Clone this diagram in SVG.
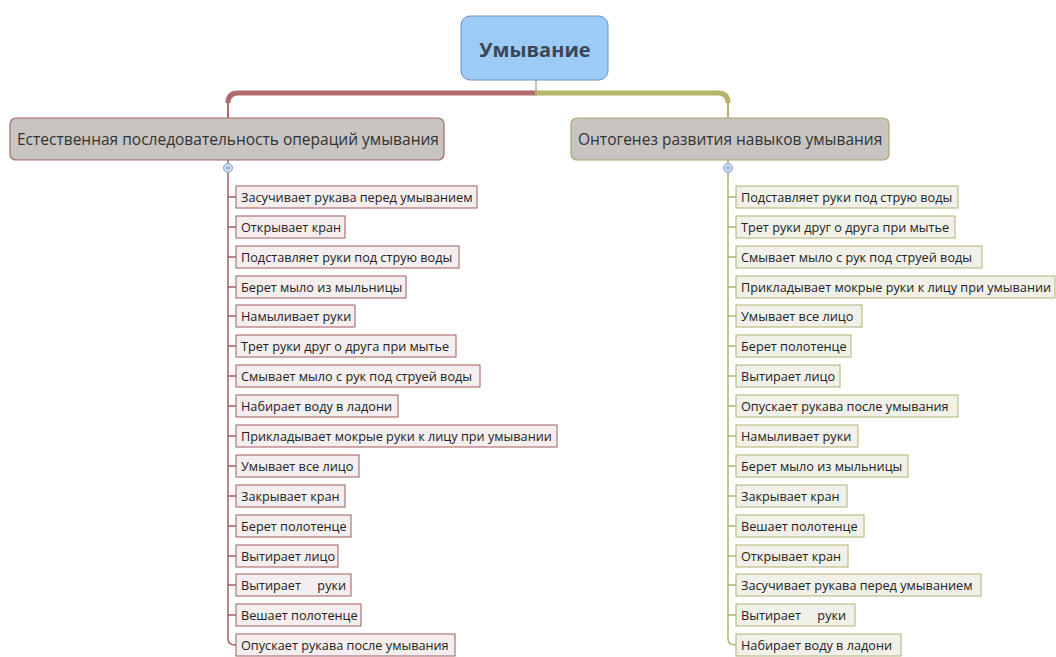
<svg xmlns="http://www.w3.org/2000/svg" width="1056" height="657" viewBox="0 0 1056 657">
<style>
text{font-family:"Open Sans","Noto Sans","DejaVu Sans",sans-serif;fill:#222}
.root rect{fill:#9ccbf7;stroke:#6f93b5;stroke-width:1}
.root text{font-size:20px;font-weight:bold;fill:#3b4654}
.main rect{fill:#c7c4c2;stroke-width:1.2}
.main text{font-size:15.5px;fill:#333}
.l rect{fill:#f4eeee;stroke:#a25c5c;stroke-width:1}
.r rect{fill:#f1f1ea;stroke:#b2b272;stroke-width:1}
.l text,.r text{font-size:12.7px}
.cl{stroke:#a25c5c;fill:none;stroke-width:1.5}
.cr{stroke:#b2b272;fill:none;stroke-width:1.5}
.knob{fill:#c6d9f0;stroke:#8fa9cc;stroke-width:1}
</style>
<rect width="1056" height="657" fill="#ffffff"/>
<g id="connectors">
<line x1="536" y1="80" x2="536" y2="93" stroke="#888" stroke-width="1"/>
<path d="M537,93 H238 Q228,93 228,103" stroke="#b06a6a" stroke-width="5" fill="none"/>
<path d="M228,100 V118" stroke="#b06a6a" stroke-width="2" fill="none"/>
<path d="M535,93 H718 Q728,93 728,103" stroke="#b4b46a" stroke-width="5" fill="none"/>
<path d="M728,100 V118" stroke="#b4b46a" stroke-width="2" fill="none"/>
<path class="cl" d="M228,160 V639 Q228,645 236,645"/>
<path class="cr" d="M728,160 V639 Q728,645 736,645"/>
<g class="cl">
<path d="M228,197H236M228,227H236M228,257H236M228,287H236M228,316H236M228,346H236M228,376H236M228,406H236M228,436H236M228,466H236M228,496H236M228,526H236M228,556H236M228,585H236M228,615H236"/>
</g>
<g class="cr">
<path d="M728,197H736M728,227H736M728,257H736M728,287H736M728,316H736M728,346H736M728,376H736M728,406H736M728,436H736M728,466H736M728,496H736M728,526H736M728,556H736M728,585H736M728,615H736"/>
</g>
<circle class="knob" cx="228" cy="168" r="4.5"/>
<line x1="226" y1="168" x2="230" y2="168" stroke="#6f89b0" stroke-width="1"/>
<circle class="knob" cx="728" cy="168" r="4.5"/>
<line x1="726" y1="168" x2="730" y2="168" stroke="#6f89b0" stroke-width="1"/>
</g>
<g id="root" class="root"><rect x="461" y="16" width="147" height="64" rx="9"/><text x="535" y="57" text-anchor="middle">Умывание</text></g>
<g id="main-left" class="main"><rect x="10" y="118" width="434" height="42" rx="6" stroke="#a46868"/><text x="17" y="145">Естественная последовательность операций умывания</text></g>
<g id="main-right" class="main"><rect x="571" y="118" width="318" height="42" rx="6" stroke="#a8a86a"/><text x="578" y="145">Онтогенез развития навыков умывания</text></g>
<g id="l1" class="l"><rect x="236" y="186" width="241" height="22"/><text x="241" y="202">Засучивает рукава перед умыванием</text></g>
<g id="l2" class="l"><rect x="236" y="216" width="109" height="22"/><text x="241" y="232">Открывает кран</text></g>
<g id="l3" class="l"><rect x="236" y="246" width="223" height="22"/><text x="241" y="262">Подставляет руки под струю воды</text></g>
<g id="l4" class="l"><rect x="236" y="276" width="170" height="22"/><text x="241" y="292">Берет мыло из мыльницы</text></g>
<g id="l5" class="l"><rect x="236" y="305" width="119" height="22"/><text x="241" y="321">Намыливает руки</text></g>
<g id="l6" class="l"><rect x="236" y="335" width="220" height="22"/><text x="241" y="351">Трет руки друг о друга при мытье</text></g>
<g id="l7" class="l"><rect x="236" y="365" width="244" height="22"/><text x="241" y="381">Смывает мыло с рук под струей воды</text></g>
<g id="l8" class="l"><rect x="236" y="395" width="162" height="22"/><text x="241" y="411">Набирает воду в ладони</text></g>
<g id="l9" class="l"><rect x="236" y="425" width="321" height="22"/><text x="241" y="441">Прикладывает мокрые руки к лицу при умывании</text></g>
<g id="l10" class="l"><rect x="236" y="455" width="123" height="22"/><text x="241" y="471">Умывает все лицо</text></g>
<g id="l11" class="l"><rect x="236" y="485" width="109" height="22"/><text x="241" y="501">Закрывает кран</text></g>
<g id="l12" class="l"><rect x="236" y="515" width="115" height="22"/><text x="241" y="531">Берет полотенце</text></g>
<g id="l13" class="l"><rect x="236" y="545" width="102" height="22"/><text x="241" y="561">Вытирает лицо</text></g>
<g id="l14" class="l"><rect x="236" y="574" width="115" height="22"/><text x="241" y="590" xml:space="preserve">Вытирает     руки</text></g>
<g id="l15" class="l"><rect x="236" y="604" width="125" height="22"/><text x="241" y="620">Вешает полотенце</text></g>
<g id="l16" class="l"><rect x="236" y="634" width="219" height="22"/><text x="241" y="650">Опускает рукава после умывания</text></g>
<g id="r1" class="r"><rect x="736" y="186" width="222" height="22"/><text x="741" y="202">Подставляет руки под струю воды</text></g>
<g id="r2" class="r"><rect x="736" y="216" width="219" height="22"/><text x="741" y="232">Трет руки друг о друга при мытье</text></g>
<g id="r3" class="r"><rect x="736" y="246" width="246" height="22"/><text x="741" y="262">Смывает мыло с рук под струей воды</text></g>
<g id="r4" class="r"><rect x="736" y="276" width="319" height="22"/><text x="741" y="292" textLength="310" lengthAdjust="spacingAndGlyphs">Прикладывает мокрые руки к лицу при умывании</text></g>
<g id="r5" class="r"><rect x="736" y="305" width="126" height="22"/><text x="741" y="321">Умывает все лицо</text></g>
<g id="r6" class="r"><rect x="736" y="335" width="115" height="22"/><text x="741" y="351">Берет полотенце</text></g>
<g id="r7" class="r"><rect x="736" y="365" width="104" height="22"/><text x="741" y="381">Вытирает лицо</text></g>
<g id="r8" class="r"><rect x="736" y="395" width="222" height="22"/><text x="741" y="411">Опускает рукава после умывания</text></g>
<g id="r9" class="r"><rect x="736" y="425" width="122" height="22"/><text x="741" y="441">Намыливает руки</text></g>
<g id="r10" class="r"><rect x="736" y="455" width="172" height="22"/><text x="741" y="471">Берет мыло из мыльницы</text></g>
<g id="r11" class="r"><rect x="736" y="485" width="111" height="22"/><text x="741" y="501">Закрывает кран</text></g>
<g id="r12" class="r"><rect x="736" y="515" width="128" height="22"/><text x="741" y="531">Вешает полотенце</text></g>
<g id="r13" class="r"><rect x="736" y="545" width="112" height="22"/><text x="741" y="561">Открывает кран</text></g>
<g id="r14" class="r"><rect x="736" y="574" width="245" height="22"/><text x="741" y="590">Засучивает рукава перед умыванием</text></g>
<g id="r15" class="r"><rect x="736" y="604" width="119" height="22"/><text x="741" y="620" xml:space="preserve">Вытирает     руки</text></g>
<g id="r16" class="r"><rect x="736" y="634" width="165" height="22"/><text x="741" y="650">Набирает воду в ладони</text></g>
</svg>
